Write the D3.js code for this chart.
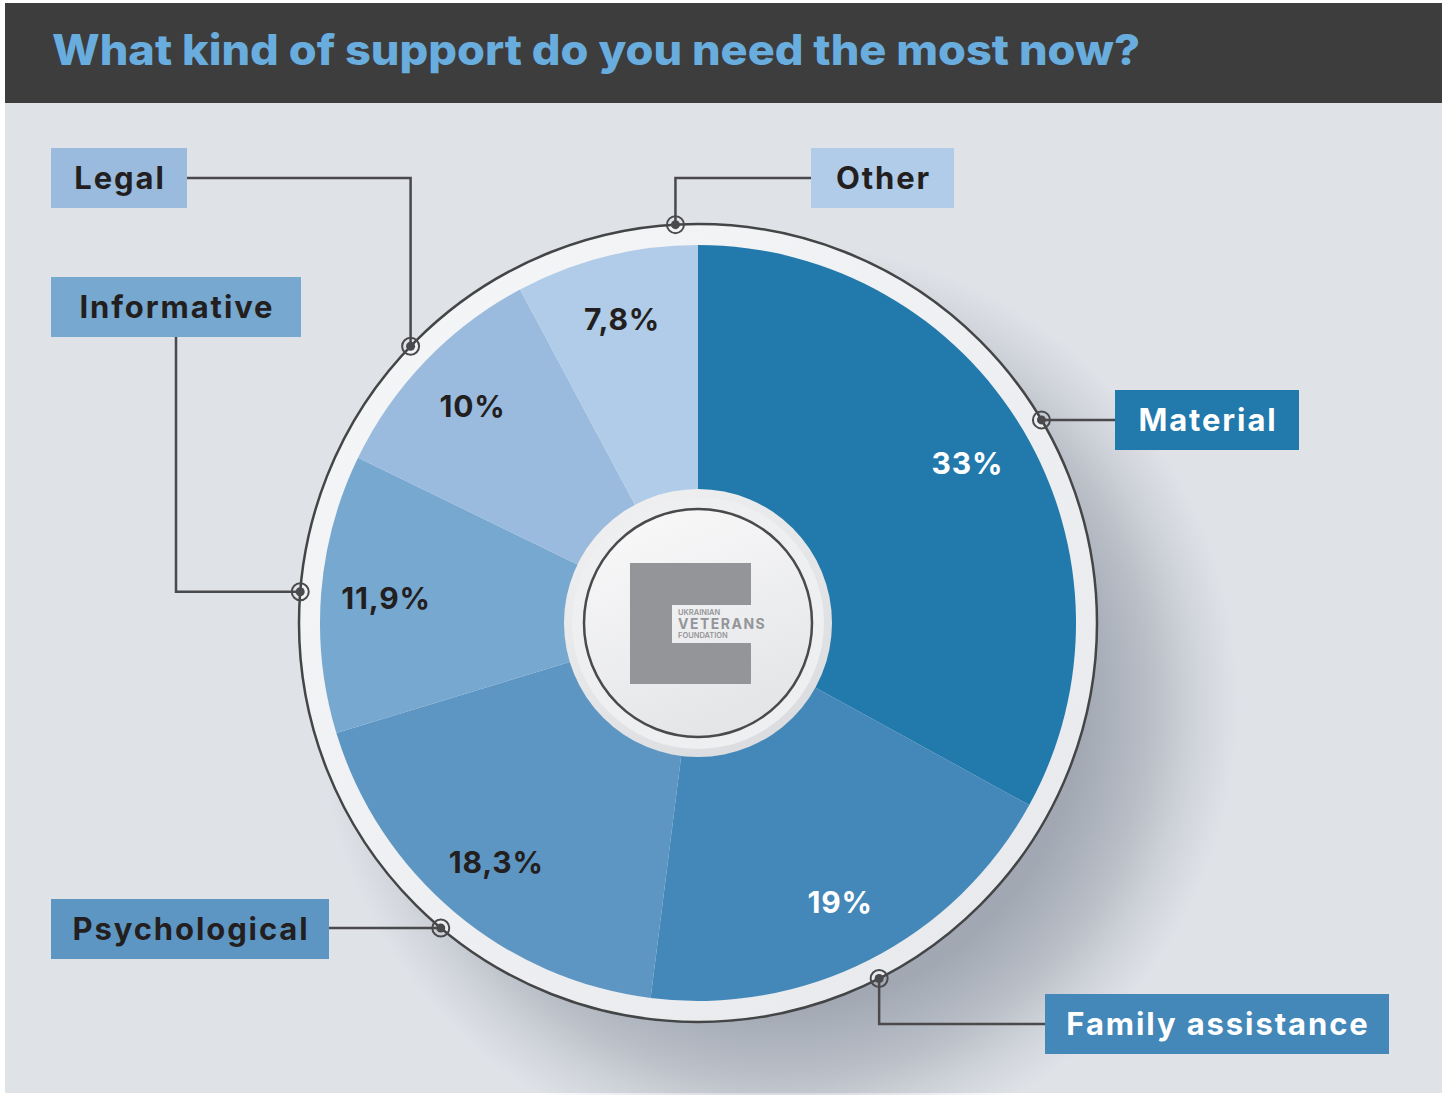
<!DOCTYPE html>
<html>
<head>
<meta charset="utf-8">
<script src="https://cdn.jsdelivr.net/npm/d3@7"></script>
<style>
  html, body { margin: 0; padding: 0; background: #ffffff; }
  svg { display: block; }
  text { font-family: Inter, "Open Sans", sans-serif; }
</style>
</head>
<body>
<script>
// Survey answers, clockwise from 12 o'clock
const categories = ["Material", "Family assistance", "Psychological", "Informative", "Legal", "Other"];
const values = [33, 19, 18.3, 11.9, 10, 7.8];
const valueLabels = ["33%", "19%", "18,3%", "11,9%", "10%", "7,8%"];
const title = "What kind of support do you need the most now?";

const sliceColors = ["#2279ab", "#4388b8", "#5e96c3", "#77a8cf", "#9abbde", "#b1cce8"];
const valueTextColors = ["#ffffff", "#ffffff", "#231f20", "#231f20", "#231f20", "#231f20"];
const boxTextColors = ["#ffffff", "#ffffff", "#231f20", "#231f20", "#231f20", "#231f20"];

// Callout boxes and where their leaders meet the rim
const callouts = {
  "Material":          { x: 1115, y: 390, w: 184, h: 60, route: "h" },
  "Family assistance": { x: 1045, y: 994, w: 344, h: 60, route: "vh" },
  "Psychological":     { x: 51,   y: 899, w: 278, h: 60, route: "h" },
  "Informative":       { x: 51,   y: 277, w: 250, h: 60, route: "hv" },
  "Legal":             { x: 51,   y: 148, w: 136, h: 60, route: "vh" },
  "Other":             { x: 811,  y: 148, w: 143, h: 60, route: "vh", angle: 0.03 }
};

const W = 1447, H = 1095;
const cx = 698, cy = 623;
const rPie = 378, rRim = 399, rHub = 134, rLogo = 114, rValue = 313;

const svg = d3.select("body").append("svg").attr("width", W).attr("height", H);
const defs = svg.append("defs");

// panel and header
svg.append("rect").attr("x", 5).attr("y", 103).attr("width", 1437).attr("height", 990).attr("fill", "#dfe2e7");
svg.append("rect").attr("x", 5).attr("y", 3).attr("width", 1437).attr("height", 100).attr("fill", "#3d3d3d");
svg.append("text").attr("x", 52).attr("y", 65)
  .attr("fill", "#69addf").attr("font-size", 42).attr("font-weight", 800)
  .attr("textLength", 1088).attr("lengthAdjust", "spacingAndGlyphs")
  .text(title);

// soft shadow falling to the lower right of the disc
const sg = defs.append("radialGradient").attr("id", "shadow");
[[0, 0.7], [0.66, 0.62], [0.8, 0.4], [0.92, 0.13], [1, 0]].forEach(([o, a]) =>
  sg.append("stop").attr("offset", o).attr("stop-color", "#7c8593").attr("stop-opacity", a));
svg.append("circle").attr("cx", cx + 80).attr("cy", cy + 80).attr("r", 460).attr("fill", "url(#shadow)");

// rim
const rimG = defs.append("linearGradient").attr("id", "rim").attr("x1", 0).attr("y1", 0).attr("x2", 1).attr("y2", 1);
rimG.append("stop").attr("offset", 0).attr("stop-color", "#f6f7f9");
rimG.append("stop").attr("offset", 1).attr("stop-color", "#e6e8eb");
svg.append("circle").attr("cx", cx).attr("cy", cy).attr("r", rRim)
  .attr("fill", "url(#rim)").attr("stroke", "#444546").attr("stroke-width", 2.5);

// slices
const pie = d3.pie().sort(null).value(d => d)(values);
const arc = d3.arc().innerRadius(0).outerRadius(rPie);
const g = svg.append("g").attr("transform", `translate(${cx},${cy})`);
g.selectAll("path.slice").data(pie).join("path")
  .attr("class", "slice")
  .attr("d", arc)
  .attr("fill", (d, i) => sliceColors[i]);

// hub with logo
const hubG = defs.append("linearGradient").attr("id", "hub").attr("x1", 0).attr("y1", 0).attr("x2", 0.6).attr("y2", 1);
hubG.append("stop").attr("offset", 0).attr("stop-color", "#f2f2f3");
hubG.append("stop").attr("offset", 1).attr("stop-color", "#dcdde0");
const faceG = defs.append("linearGradient").attr("id", "face").attr("x1", 0.3).attr("y1", 0).attr("x2", 0.7).attr("y2", 1);
faceG.append("stop").attr("offset", 0).attr("stop-color", "#f8f8f9");
faceG.append("stop").attr("offset", 1).attr("stop-color", "#e3e4e6");
g.append("circle").attr("r", rHub).attr("fill", "url(#hub)");
g.append("circle").attr("r", rHub - 8).attr("fill", "#eeeff0");
g.append("circle").attr("r", rLogo).attr("fill", "url(#face)").attr("stroke", "#4a4a4c").attr("stroke-width", 2.5);

// emblem: square with a notch on the right for the wordmark
const lx = -68, ly = -60, ls = 121;
g.append("path")
  .attr("d", `M${lx},${ly}h${ls}v${ls}h${-ls}Z M${lx + 42},${ly + 42}h${ls - 42}v38h${-(ls - 42)}Z`)
  .attr("fill", "#939598").attr("fill-rule", "evenodd");
const word = g.append("g").attr("fill", "#939598");
word.append("text").attr("x", -20).attr("y", -8).attr("font-size", 7.5).attr("font-weight", 600).text("UKRAINIAN");
word.append("text").attr("x", -20).attr("y", 6).attr("font-size", 14).attr("font-weight", 700).attr("letter-spacing", 1.5).text("VETERANS");
word.append("text").attr("x", -20).attr("y", 15).attr("font-size", 7.5).attr("font-weight", 600).text("FOUNDATION");

// value labels
const labelArc = d3.arc().innerRadius(rValue).outerRadius(rValue);
g.selectAll("text.value").data(pie).join("text")
  .attr("class", "value")
  .attr("transform", d => `translate(${labelArc.centroid(d)})`)
  .attr("text-anchor", "middle").attr("dy", "0.36em")
  .attr("font-size", 30).attr("font-weight", 700).attr("letter-spacing", 0.8)
  .attr("fill", (d, i) => valueTextColors[i])
  .text((d, i) => valueLabels[i]);

// callouts
const cg = svg.append("g");
pie.forEach((d, i) => {
  const c = callouts[categories[i]];
  const a = (d.startAngle + d.endAngle) / 2 + (c.angle || 0) * 2 * Math.PI;
  const mx = cx + rRim * Math.sin(a), my = cy - rRim * Math.cos(a);
  const midY = c.y + c.h / 2, midX = c.x + c.w / 2;
  const left = mx > midX;
  const sideX = left ? c.x + c.w : c.x;
  let pts;
  if (c.route === "h") pts = [[mx, my], [sideX, my]];
  else if (c.route === "vh") pts = [[mx, my], [mx, midY], [sideX, midY]];
  else pts = [[mx, my], [midX, my], [midX, my > midY ? c.y + c.h : c.y]];
  cg.append("path").attr("d", d3.line()(pts))
    .attr("fill", "none").attr("stroke", "#4a4a4c").attr("stroke-width", 2.5);
  cg.append("rect").attr("x", c.x).attr("y", c.y).attr("width", c.w).attr("height", c.h)
    .attr("fill", sliceColors[i]);
  cg.append("text").attr("x", midX + 1).attr("y", midY).attr("dy", "0.36em")
    .attr("text-anchor", "middle").attr("font-size", 31).attr("font-weight", 700)
    .attr("letter-spacing", 1.9)
    .attr("fill", boxTextColors[i]).text(categories[i]);
  cg.append("circle").attr("cx", mx).attr("cy", my).attr("r", 8.5)
    .attr("fill", "none").attr("stroke", "#4a4a4c").attr("stroke-width", 2);
  cg.append("circle").attr("cx", mx).attr("cy", my).attr("r", 4.5).attr("fill", "#4a4a4c");
});
</script>
</body>
</html>
